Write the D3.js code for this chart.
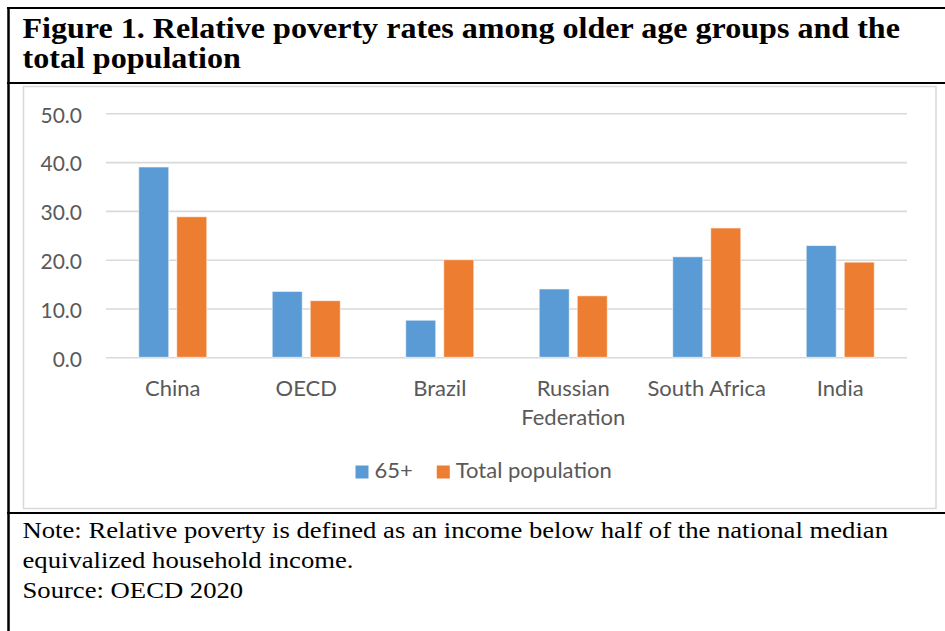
<!DOCTYPE html>
<html>
<head>
<meta charset="utf-8">
<script src="https://cdn.jsdelivr.net/npm/d3@7/dist/d3.min.js"></script>
<style>
  html, body { margin: 0; padding: 0; background: #fff; }
  svg { display: block; }
</style>
</head>
<body>
<svg id="fig" width="945" height="631"></svg>
<script>
// Relative poverty rates (%), by group
const categories = ["China", "OECD", "Brazil", "Russian Federation", "South Africa", "India"];
const seriesNames = ["65+", "Total population"];
const olderValues = [39.0, 13.5, 7.6, 14.0, 20.6, 22.9];
const totalValues = [28.8, 11.6, 20.0, 12.6, 26.5, 19.5];
const yTicks = [0, 10, 20, 30, 40, 50];
const seriesColors = ["#5B9BD5", "#ED7D31"];

const titleLines = ["Figure 1. Relative poverty rates among older age groups and the", "total population"];
const noteLines = [
  "Note: Relative poverty is defined as an income below half of the national median",
  "equivalized household income.",
  "Source: OECD 2020"
];

const svg = d3.select("#fig");
const W = 945, H = 631;
const serif = "'Liberation Serif', 'Times New Roman', serif";
const sans = "Lato, 'Open Sans', sans-serif";
const labelColor = "#595959";
const gridColor = "#d9d9d9";

// Figure box lines
const box = svg.append("g").attr("stroke", "#000").attr("stroke-width", 2);
box.append("line").attr("x1", 7).attr("x2", W).attr("y1", 8).attr("y2", 8);
box.append("line").attr("x1", 8.5).attr("x2", 8.5).attr("y1", 7).attr("y2", H).attr("stroke-width", 2.5);
box.append("line").attr("x1", 7).attr("x2", W).attr("y1", 83).attr("y2", 83);
box.append("line").attr("x1", 7).attr("x2", W).attr("y1", 513).attr("y2", 513);

// Title (set slightly wide, like the document's rendering)
svg.append("g").attr("transform", "translate(22.5,0) scale(1.126,1)")
  .selectAll("text").data(titleLines).join("text")
  .attr("x", 0).attr("y", (d, i) => 38 + i * 30)
  .attr("font-family", serif).attr("font-weight", "bold").attr("font-size", 28.5)
  .attr("fill", "#000").text(d => d);

// Chart frame
svg.append("rect").attr("x", 23.5).attr("y", 86.5).attr("width", 912.5).attr("height", 422)
  .attr("fill", "#fff").attr("stroke", gridColor).attr("stroke-width", 1.5);

// Scales
const plot = { left: 106, right: 907, top: 113.3, bottom: 357.3 };
const x = d3.scaleBand().domain(categories).range([plot.left, plot.right])
  .paddingInner(0.49).paddingOuter(0.245);
const xInner = d3.scaleBand().domain([0, 1]).range([0, x.bandwidth()]).paddingInner(0.21);
const y = d3.scaleLinear().domain([0, 50]).range([plot.bottom, plot.top]);

// Y axis with gridlines
const yAxis = svg.append("g").attr("transform", `translate(${plot.left},0)`)
  .call(d3.axisLeft(y).tickValues(yTicks).tickFormat(d3.format(".1f"))
    .tickSize(-(plot.right - plot.left)).tickPadding(24));
yAxis.select(".domain").remove();
yAxis.selectAll(".tick line").attr("stroke", gridColor).attr("stroke-width", 1.6);
yAxis.selectAll(".tick text").attr("font-family", sans).attr("font-size", 21)
  .attr("fill", labelColor).attr("dy", "0.42em");

// Bars
const series = [olderValues, totalValues];
const groups = svg.append("g").selectAll("g").data(series).join("g")
  .attr("fill", (d, i) => seriesColors[i]);
groups.each(function (vals, si) {
  d3.select(this).selectAll("rect").data(vals).join("rect")
    .attr("x", (v, ci) => x(categories[ci]) + xInner(si))
    .attr("width", xInner.bandwidth())
    .attr("y", v => y(v))
    .attr("height", v => y(0) - y(v))
    .attr("stroke", "#fff").attr("stroke-opacity", 0.6).attr("stroke-width", 1);
});

// X axis category labels, wrapped onto lines that fit the band step
const xAxis = svg.append("g").attr("transform", `translate(0,${plot.bottom})`)
  .call(d3.axisBottom(x).tickSize(0).tickPadding(0));
xAxis.select(".domain").remove();
xAxis.selectAll(".tick text")
  .attr("font-family", sans).attr("font-size", 22).attr("fill", labelColor)
  .attr("y", 0).attr("dy", null)
  .each(function (d) {
    const t = d3.select(this);
    t.text(null);
    const words = d.split(" ");
    const lines = [];
    let cur = [];
    const probe = t.append("tspan");
    words.forEach(w => {
      const trial = cur.concat([w]).join(" ");
      probe.text(trial);
      if (probe.node().getComputedTextLength() > 127 && cur.length) {
        lines.push(cur.join(" "));
        cur = [w];
      } else {
        cur.push(w);
      }
    });
    lines.push(cur.join(" "));
    probe.remove();
    lines.forEach((ln, i) => {
      t.append("tspan").attr("x", 0).attr("y", 38.5 + i * 29.5).text(ln);
    });
  });

// Legend
const legend = svg.append("g");
let lx = 355.5;
seriesNames.forEach((name, i) => {
  legend.append("rect").attr("x", lx).attr("y", 465.5).attr("width", 13).attr("height", 13)
    .attr("fill", seriesColors[i]);
  const txt = legend.append("text").attr("x", lx + 19).attr("y", 478.3)
    .attr("font-family", sans).attr("font-size", 22).attr("fill", labelColor).text(name);
  lx = lx + 19 + txt.node().getComputedTextLength() + 24;
});

// Note and source (same wide setting as the title)
svg.append("g").attr("transform", "translate(22.5,0) scale(1.16,1)")
  .selectAll("text").data(noteLines).join("text")
  .attr("x", 0).attr("y", (d, i) => 538 + i * 30)
  .attr("font-family", serif).attr("font-size", 23).attr("fill", "#000").text(d => d);
</script>
</body>
</html>
